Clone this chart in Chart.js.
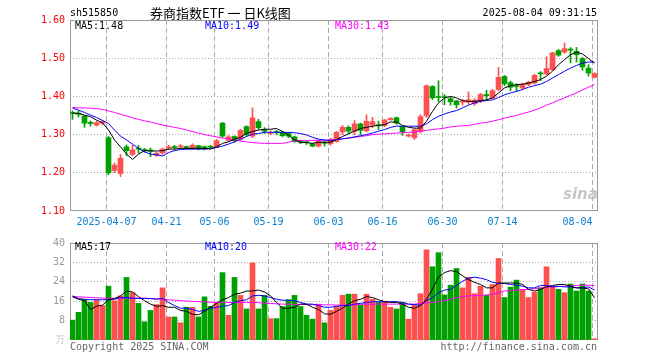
<!DOCTYPE html>
<html>
<head>
<meta charset="utf-8">
<script src="https://cdn.jsdelivr.net/npm/chart.js@4.4.1/dist/chart.umd.min.js"></script>
<style>
    body { margin: 0; background: #fff; }
    #wrap { position: relative; width: 660px; height: 360px; font-family: "DejaVu Sans Mono", monospace; font-size: 10px; }
    canvas { position: absolute; left: 0; }
    .t { position: absolute; white-space: pre; line-height: 12px; }
</style>
</head>
<body>
<div id="wrap">
    <canvas id="kline" width="660" height="232" style="top:0"></canvas>
    <canvas id="vol" width="660" height="128" style="top:232px"></canvas>

    <div class="t" style="left:70px;top:7px;color:#000">sh515850</div>
    <div class="t" style="left:150px;top:5px;font-family:'Noto Sans CJK SC';font-size:13px;line-height:16px;color:#000">券商指数ETF 一 日K线图</div>
    <div class="t" style="right:63px;top:7px;color:#000">2025-08-04 09:31:15</div>

    <div class="t" style="left:75px;top:20px;color:#000">MA5:1.48</div>
    <div class="t" style="left:205px;top:20px;color:#0000ff">MA10:1.49</div>
    <div class="t" style="left:335px;top:20px;color:#ff00ff">MA30:1.43</div>

    <div class="t" style="left:75px;top:241px;color:#000">MA5:17</div>
    <div class="t" style="left:205px;top:241px;color:#0000ff">MA10:20</div>
    <div class="t" style="left:335px;top:241px;color:#ff00ff">MA30:22</div>

    <div class="t" style="left:563px;top:188px;font-family:'DejaVu Sans';font-size:15px;font-style:italic;font-weight:bold;color:#c8c8c8">sina</div>

    <div class="t" style="left:70px;top:341px;color:#666">Copyright 2025 SINA.COM</div>
    <div class="t" style="right:63px;top:341px;color:#666">http://finance.sina.com.cn</div>
</div>
<script>
const dates = [
    "2025-03-27", "2025-03-28", "2025-03-31", "2025-04-01", "2025-04-02", "2025-04-03",
    "2025-04-07", "2025-04-08", "2025-04-09", "2025-04-10", "2025-04-11", "2025-04-14",
    "2025-04-15", "2025-04-16", "2025-04-17", "2025-04-18", "2025-04-21", "2025-04-22",
    "2025-04-23", "2025-04-24", "2025-04-25", "2025-04-28", "2025-04-29", "2025-04-30",
    "2025-05-06", "2025-05-07", "2025-05-08", "2025-05-09", "2025-05-12", "2025-05-13",
    "2025-05-14", "2025-05-15", "2025-05-16", "2025-05-19", "2025-05-20", "2025-05-21",
    "2025-05-22", "2025-05-23", "2025-05-26", "2025-05-27", "2025-05-28", "2025-05-29",
    "2025-05-30", "2025-06-03", "2025-06-04", "2025-06-05", "2025-06-06", "2025-06-09",
    "2025-06-10", "2025-06-11", "2025-06-12", "2025-06-13", "2025-06-16", "2025-06-17",
    "2025-06-18", "2025-06-19", "2025-06-20", "2025-06-23", "2025-06-24", "2025-06-25",
    "2025-06-26", "2025-06-27", "2025-06-30", "2025-07-01", "2025-07-02", "2025-07-03",
    "2025-07-04", "2025-07-07", "2025-07-08", "2025-07-09", "2025-07-10", "2025-07-11",
    "2025-07-14", "2025-07-15", "2025-07-16", "2025-07-17", "2025-07-18", "2025-07-21",
    "2025-07-22", "2025-07-23", "2025-07-24", "2025-07-25", "2025-07-28", "2025-07-29",
    "2025-07-30", "2025-07-31", "2025-08-01", "2025-08-04",
];

// OHLC
const openP = [
    1.356, 1.356, 1.349, 1.332, 1.325, 1.330, 1.292, 1.206, 1.198, 1.268,
    1.248, 1.264, 1.261, 1.259, 1.246, 1.252, 1.265, 1.268, 1.268, 1.268,
    1.264, 1.271, 1.268, 1.268, 1.268, 1.330, 1.285, 1.295, 1.288, 1.321,
    1.296, 1.334, 1.312, 1.303, 1.308, 1.306, 1.303, 1.294, 1.282, 1.281,
    1.276, 1.270, 1.278, 1.276, 1.282, 1.307, 1.319, 1.309, 1.328, 1.310,
    1.325, 1.326, 1.324, 1.339, 1.344, 1.321, 1.296, 1.292, 1.308, 1.350,
    1.426, 1.399, 1.399, 1.394, 1.388, 1.385, 1.385, 1.381, 1.389, 1.405,
    1.396, 1.418, 1.452, 1.436, 1.428, 1.422, 1.431, 1.435, 1.461, 1.459,
    1.470, 1.520, 1.516, 1.524, 1.518, 1.499, 1.474, 1.450,
];
const highP = [
    1.362, 1.362, 1.350, 1.336, 1.335, 1.338, 1.295, 1.226, 1.248, 1.273,
    1.272, 1.272, 1.264, 1.265, 1.254, 1.265, 1.272, 1.272, 1.274, 1.270,
    1.276, 1.272, 1.270, 1.272, 1.288, 1.332, 1.298, 1.297, 1.314, 1.323,
    1.370, 1.340, 1.318, 1.310, 1.311, 1.309, 1.306, 1.296, 1.285, 1.283,
    1.278, 1.286, 1.285, 1.290, 1.308, 1.324, 1.323, 1.337, 1.330, 1.352,
    1.345, 1.335, 1.340, 1.345, 1.346, 1.322, 1.302, 1.315, 1.352, 1.430,
    1.428, 1.441, 1.405, 1.398, 1.390, 1.392, 1.412, 1.394, 1.408, 1.416,
    1.418, 1.476, 1.455, 1.440, 1.433, 1.435, 1.440, 1.458, 1.465, 1.504,
    1.516, 1.523, 1.540, 1.528, 1.528, 1.502, 1.483, 1.462,
];
const lowP = [
    1.340, 1.346, 1.319, 1.322, 1.322, 1.326, 1.195, 1.200, 1.190, 1.245,
    1.245, 1.252, 1.254, 1.242, 1.243, 1.248, 1.262, 1.262, 1.264, 1.262,
    1.262, 1.260, 1.260, 1.264, 1.266, 1.293, 1.282, 1.280, 1.285, 1.296,
    1.292, 1.313, 1.303, 1.300, 1.300, 1.294, 1.292, 1.280, 1.276, 1.274,
    1.268, 1.267, 1.270, 1.272, 1.280, 1.300, 1.303, 1.300, 1.300, 1.307,
    1.318, 1.313, 1.321, 1.337, 1.327, 1.298, 1.294, 1.287, 1.304, 1.345,
    1.392, 1.386, 1.378, 1.377, 1.370, 1.377, 1.380, 1.376, 1.384, 1.392,
    1.394, 1.415, 1.428, 1.415, 1.413, 1.418, 1.428, 1.432, 1.441, 1.456,
    1.468, 1.505, 1.513, 1.488, 1.490, 1.468, 1.453, 1.448,
];
const closeP = [
    1.355, 1.353, 1.330, 1.329, 1.331, 1.334, 1.200, 1.220, 1.238, 1.258,
    1.260, 1.262, 1.258, 1.257, 1.251, 1.262, 1.268, 1.266, 1.270, 1.266,
    1.272, 1.265, 1.266, 1.267, 1.284, 1.296, 1.294, 1.284, 1.311, 1.300,
    1.344, 1.318, 1.309, 1.306, 1.305, 1.297, 1.296, 1.282, 1.280, 1.279,
    1.270, 1.283, 1.277, 1.288, 1.306, 1.319, 1.309, 1.328, 1.311, 1.335,
    1.334, 1.323, 1.338, 1.342, 1.330, 1.307, 1.299, 1.313, 1.347, 1.428,
    1.396, 1.397, 1.397, 1.386, 1.378, 1.388, 1.391, 1.390, 1.405, 1.402,
    1.415, 1.450, 1.433, 1.424, 1.426, 1.431, 1.437, 1.455, 1.459, 1.473,
    1.514, 1.508, 1.525, 1.521, 1.509, 1.477, 1.461, 1.460,
];

const ma5 = [
    1.356, 1.356, 1.351, 1.347, 1.338, 1.331, 1.312, 1.286, 1.268, 1.249,
    1.235, 1.249, 1.258, 1.257, 1.257, 1.258, 1.262, 1.262, 1.264, 1.264,
    1.264, 1.264, 1.264, 1.262, 1.268, 1.277, 1.281, 1.288, 1.293, 1.303,
    1.308, 1.312, 1.314, 1.314, 1.316, 1.308, 1.299, 1.286, 1.280, 1.279,
    1.277, 1.280, 1.280, 1.280, 1.287, 1.295, 1.302, 1.309, 1.316, 1.319,
    1.322, 1.324, 1.326, 1.333, 1.333, 1.324, 1.319, 1.317, 1.317, 1.335,
    1.361, 1.383, 1.396, 1.400, 1.396, 1.389, 1.387, 1.387, 1.389, 1.391,
    1.396, 1.409, 1.422, 1.428, 1.431, 1.432, 1.435, 1.439, 1.444, 1.453,
    1.466, 1.483, 1.496, 1.509, 1.516, 1.511, 1.499, 1.487,
];
const ma10 = [
    1.369, 1.364, 1.358, 1.351, 1.345, 1.337, 1.329, 1.312, 1.296, 1.286,
    1.275, 1.264, 1.255, 1.249, 1.247, 1.244, 1.253, 1.258, 1.261, 1.262,
    1.262, 1.262, 1.262, 1.264, 1.266, 1.270, 1.275, 1.281, 1.288, 1.295,
    1.301, 1.303, 1.306, 1.306, 1.306, 1.306, 1.306, 1.305, 1.303, 1.299,
    1.293, 1.288, 1.286, 1.284, 1.287, 1.289, 1.291, 1.294, 1.297, 1.300,
    1.304, 1.309, 1.313, 1.319, 1.322, 1.322, 1.322, 1.322, 1.322, 1.328,
    1.339, 1.348, 1.354, 1.359, 1.363, 1.370, 1.377, 1.383, 1.387, 1.389,
    1.391, 1.397, 1.404, 1.409, 1.413, 1.418, 1.424, 1.428, 1.432, 1.439,
    1.448, 1.457, 1.466, 1.474, 1.481, 1.487, 1.490, 1.490,
];
const ma30 = [
    1.371, 1.370, 1.370, 1.369, 1.368, 1.366, 1.362, 1.358, 1.353, 1.349,
    1.344, 1.340, 1.336, 1.333, 1.329, 1.325, 1.322, 1.319, 1.316, 1.312,
    1.308, 1.304, 1.300, 1.297, 1.294, 1.291, 1.289, 1.286, 1.283, 1.281,
    1.279, 1.278, 1.277, 1.277, 1.277, 1.277, 1.280, 1.284, 1.285, 1.285,
    1.285, 1.285, 1.285, 1.286, 1.287, 1.289, 1.291, 1.293, 1.295, 1.297,
    1.300, 1.301, 1.302, 1.303, 1.304, 1.305, 1.306, 1.307, 1.309, 1.311,
    1.313, 1.315, 1.317, 1.320, 1.322, 1.323, 1.324, 1.327, 1.330, 1.332,
    1.335, 1.339, 1.343, 1.347, 1.350, 1.355, 1.359, 1.364, 1.370, 1.377,
    1.383, 1.390, 1.396, 1.403, 1.409, 1.417, 1.424, 1.431,
];

// volume, in 万手
const volume = [
    8.2, 11.4, 16.8, 15.5, 16.4, 14.2, 22.2, 16.2, 18.2, 25.8,
    19.5, 15.1, 7.5, 12.2, 14.6, 21.5, 9.5, 9.5, 7.1, 13.5,
    13.5, 9.5, 17.8, 13.9, 15.5, 27.8, 10.2, 25.8, 18.4, 12.8,
    31.8, 12.8, 18.4, 8.8, 8.8, 13.8, 16.6, 18.4, 13.8, 10.2,
    8.6, 14.8, 7.1, 12.2, 13.8, 18.4, 18.9, 18.9, 14.4, 18.9,
    16.8, 15.5, 15.8, 13.5, 12.8, 15.5, 8.6, 14.4, 19.1, 37.2,
    30.2, 36.0, 18.6, 22.6, 29.5, 21.5, 25.8, 19.1, 22.2, 18.4,
    22.9, 33.6, 17.5, 21.8, 24.7, 20.9, 17.5, 19.8, 21.5, 30.2,
    22.2, 20.9, 19.5, 23.1, 20.2, 23.1, 20.2, 0.5,
];
const volMa5 = [
    17.8, 16.8, 16.2, 12.6, 13.9, 14.4, 16.6, 17.1, 18.2, 20.2,
    19.8, 17.9, 16.2, 14.8, 13.9, 14.2, 13.5, 13.5, 12.2, 11.8,
    10.6, 10.4, 11.8, 13.5, 15.1, 16.6, 17.5, 18.9, 19.3, 20.2,
    20.2, 20.6, 19.8, 18.2, 15.5, 13.1, 13.1, 13.5, 14.8, 14.8,
    13.5, 12.6, 10.8, 10.6, 11.8, 13.1, 14.8, 16.2, 16.8, 17.9,
    17.5, 16.6, 15.8, 15.5, 15.5, 14.8, 13.5, 13.1, 14.2, 16.8,
    21.0, 26.0, 27.8, 28.6, 28.2, 26.5, 24.9, 23.8, 22.9, 21.5,
    21.5, 23.5, 23.5, 23.5, 23.5, 22.9, 20.9, 20.2, 20.9, 21.9,
    22.5, 22.9, 22.9, 22.2, 21.5, 21.5, 21.1, 17.4,
];
const volMa10 = [
    18.2, 17.1, 16.8, 16.6, 16.6, 16.6, 16.6, 16.8, 17.5, 17.5,
    17.2, 17.1, 17.1, 17.1, 16.8, 17.2, 15.5, 14.2, 13.1, 13.1,
    12.6, 11.8, 12.2, 13.1, 13.5, 13.9, 14.2, 15.5, 16.2, 16.6,
    18.2, 18.4, 18.2, 17.5, 16.8, 16.4, 16.4, 16.2, 15.5, 14.8,
    14.8, 14.2, 13.5, 13.5, 13.9, 14.2, 14.2, 14.8, 15.1, 15.5,
    15.8, 15.8, 15.8, 15.8, 15.8, 15.5, 14.8, 14.6, 14.4, 16.2,
    17.5, 19.5, 20.6, 20.9, 22.5, 24.2, 25.5, 25.9, 25.5, 24.9,
    23.8, 23.3, 23.3, 22.9, 22.6, 22.2, 21.5, 21.5, 22.5, 22.5,
    21.9, 22.2, 21.9, 21.9, 21.5, 21.5, 21.9, 20.6,
];
const volMa30 = [
    17.9, 17.8, 17.7, 17.5, 17.4, 17.3, 17.2, 17.2, 17.2, 17.2,
    17.3, 17.3, 17.3, 17.1, 17.0, 16.8, 16.6, 16.4, 16.2, 16.1,
    15.9, 15.8, 15.7, 15.6, 15.5, 15.5, 15.5, 15.5, 15.5, 15.5,
    15.5, 15.4, 15.2, 15.1, 14.9, 14.8, 14.8, 14.7, 14.7, 14.6,
    14.6, 14.6, 14.5, 14.5, 14.4, 14.4, 14.5, 14.6, 14.7, 14.8,
    14.8, 14.8, 14.8, 14.8, 14.8, 14.8, 14.8, 14.8, 15.1, 15.3,
    15.5, 15.8, 16.2, 16.8, 17.5, 17.9, 18.2, 18.3, 18.4, 18.6,
    18.9, 19.5, 20.2, 20.4, 20.6, 20.8, 20.9, 21.2, 21.5, 21.7,
    21.9, 22.0, 22.2, 22.3, 22.5, 22.6, 22.6, 22.4,
];

// which days get a date label and a dashed line
const xTickIdx = [6, 16, 24, 33, 43, 52, 62, 72, 87];
const xTickLabels = ["2025-04-07", "04-21", "05-06", "05-19", "06-03", "06-16", "06-30", "07-14", "08-04     "];

const UP = "#ff5050";
const DOWN = "#00a000";
const candleColors = openP.map((o, i) => (closeP[i] >= o ? UP : DOWN));

// candle i sits at 72.5 + 6*i px, the dashed lines 2px left of it
const xMin = -2.5 / 6;
const xMax = dates.length - 2.5 / 6;

Chart.defaults.font.family = "'DejaVu Sans Mono', monospace";
Chart.defaults.font.size = 10;

function pts(arr) {
    return arr.map((v, i) => ({ x: i, y: v }));
}

function maLine(arr, color) {
    return {
        type: "line",
        data: pts(arr),
        borderColor: color,
        borderWidth: 1,
        pointRadius: 0,
        tension: 0,
        order: 0,
    };
}

const framePlugin = {
    id: "frame",
    beforeDatasetsDraw(chart) {
        const a = chart.chartArea;
        const ctx = chart.ctx;
        ctx.save();
        ctx.strokeStyle = "#999";
        ctx.lineWidth = 1;
        ctx.strokeRect(a.left + 0.5, a.top + 0.5, a.right - a.left - 1, a.bottom - a.top - 1);
        ctx.restore();
    },
};

function makeXAxis(height, showLabels) {
    return {
        type: "linear",
        min: xMin,
        max: xMax,
        offset: false,
        afterBuildTicks: (axis) => {
            axis.ticks = xTickIdx.map((i) => ({ value: i - 1 / 3 }));
        },
        afterFit: (axis) => {
            axis.height = height;
        },
        grid: { color: "#aaa", drawTicks: false, offset: false },
        border: { display: false, dash: [5, 3] },
        ticks: {
            display: showLabels,
            autoSkip: false,
            maxRotation: 0,
            padding: 5,
            color: "#0a80d0",
            callback: (v, i) => xTickLabels[i],
        },
    };
}

function makeKline() {
    new Chart("kline", {
        type: "bar",
        data: {
            datasets: [
                maLine(ma5, "#000000"),
                maLine(ma10, "#0000ff"),
                maLine(ma30, "#ff00ff"),
                {
                    data: dates.map((d, i) => ({ x: i, y: [openP[i], closeP[i]] })),
                    backgroundColor: candleColors,
                    barThickness: 5,
                    minBarLength: 1,
                    grouped: false,
                    order: 1,
                },
                {
                    data: dates.map((d, i) => ({ x: i, y: [lowP[i], highP[i]] })),
                    backgroundColor: candleColors,
                    barThickness: 1,
                    grouped: false,
                    order: 2,
                },
            ],
        },
        options: {
            responsive: false,
            animation: false,
            layout: { padding: { left: 0, right: 62, top: 20, bottom: 0 } },
            plugins: { legend: { display: false }, tooltip: { enabled: false } },
            scales: {
                x: makeXAxis(21, true),
                y: {
                    min: 1.1,
                    max: 1.6,
                    afterFit: (axis) => {
                        axis.width = 70;
                    },
                    grid: {
                        drawTicks: false,
                        color: (c) => (c.index === 0 || c.index === 5 ? "rgba(0,0,0,0)" : "#aaa"),
                    },
                    border: { display: false, dash: [1, 2] },
                    ticks: {
                        stepSize: 0.1,
                        padding: 5,
                        color: "#ff0000",
                        callback: (v) => v.toFixed(2),
                    },
                },
            },
        },
        plugins: [framePlugin],
    });
}

function makeVolume() {
    new Chart("vol", {
        type: "bar",
        data: {
            datasets: [
                maLine(volMa5, "#000000"),
                maLine(volMa10, "#0000ff"),
                maLine(volMa30, "#ff00ff"),
                {
                    data: pts(volume),
                    backgroundColor: candleColors,
                    barThickness: 5,
                    grouped: false,
                    order: 1,
                },
            ],
        },
        options: {
            responsive: false,
            animation: false,
            layout: { padding: { left: 0, right: 62, top: 8, bottom: 0 } },
            plugins: { legend: { display: false }, tooltip: { enabled: false } },
            scales: {
                x: makeXAxis(20, false),
                y: {
                    min: 0,
                    max: 40,
                    afterFit: (axis) => {
                        axis.width = 70;
                    },
                    grid: {
                        drawTicks: false,
                        color: (c) => (c.index === 0 || c.index === 5 ? "rgba(0,0,0,0)" : "#aaa"),
                    },
                    border: { display: false, dash: [1, 2] },
                    ticks: {
                        stepSize: 8,
                        padding: 5,
                        color: (c) => (c.tick.value === 0 ? "#c0c0c0" : "#999"),
                        callback: (v) => (v === 0 ? "万" : v),
                    },
                },
            },
        },
        plugins: [framePlugin],
    });
}

makeKline();
makeVolume();
</script>
</body>
</html>
